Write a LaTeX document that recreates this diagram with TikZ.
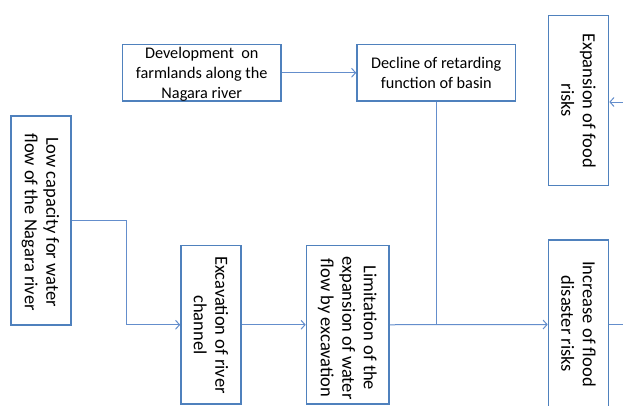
\documentclass[tikz,border=0pt]{standalone}
\usepackage{fontspec}
\setmainfont{Carlito}
\usetikzlibrary{arrows.meta}
\definecolor{boxblue}{RGB}{79,129,189}
\definecolor{lineblue}{RGB}{100,142,204}
\tikzset{
  box/.style={draw=boxblue, line width=1.6pt, fill=white, inner sep=0pt, rectangle},
  txt/.style={align=center, inner sep=0pt, font=\fontsize{16.25}{19.8}\selectfont, text=black},
  rtxt/.style={txt, rotate=-90, font=\fontsize{18.5}{21.5}\selectfont},
  conn/.style={draw=lineblue, line width=1pt},
  arr/.style={conn, -{Straight Barb[length=4pt,width=9pt,line width=1pt]}}
}
\begin{document}
\begin{tikzpicture}[x=1pt,y=-1pt]
\clip (0,0) rectangle (623,405);
\fill[white] (0,0) rectangle (623,405);
% boxes
\node[box, minimum width=158.5pt, minimum height=56.5pt] (dev) at (201.75,72.75) {};
\node[box, minimum width=158.5pt, minimum height=56.5pt] (dec) at (436.25,72.75) {};
\node[box, minimum width=60pt, minimum height=170pt] (exp) at (578.5,100.5) {};
\node[box, minimum width=60pt, minimum height=209pt] (low) at (41,220.5) {};
\node[box, minimum width=60pt, minimum height=158.5pt] (exc) at (211,324.75) {};
\node[box, minimum width=82.5pt, minimum height=158.5pt] (lim) at (347.75,324.75) {};
\node[box, minimum width=60pt, minimum height=169pt] (inc) at (578.5,324.5) {};
% texts
\node[txt] (devt) at (201.75,74) {Development\ \ on\\farmlands along the\\Nagara river};
\node[txt] (dect) at (436.25,73) {Decline of retarding\\function of basin};
\node[rtxt] (expt) at (578.5,100.5) {Expansion of food\\risks};
\node[rtxt] (lowt) at (40.5,222) {Low capacity for water\\flow of the Nagara river};
\node[rtxt] (exct) at (211,325) {Excavation of river\\channel};
\node[rtxt] (limt) at (347.25,328) {Limitation of the\\expansion of water\\flow by excavation};
\node[rtxt] (inct) at (578.5,324) {Increase of flood\\disaster risks};
% connectors
\coordinate (bend) at (126,220.5);
\coordinate (join) at (dec.south |- lim.east);
\coordinate (rin) at (623,102);
\coordinate (rout) at (623,324.5);
\draw[arr] (dev.east) -- (dec.west);
\draw[arr] (low.east) -- (bend) |- (exc.west);
\draw[arr] (exc.east) -- (lim.west);
\draw[arr] (lim.east) -- (inc.west);
\draw[conn] (dec.south) -- (join);
\draw[conn] (inc.east) -- (rout);
\draw[arr] (rin) -- (exp.east |- rin);
\end{tikzpicture}
\end{document}
